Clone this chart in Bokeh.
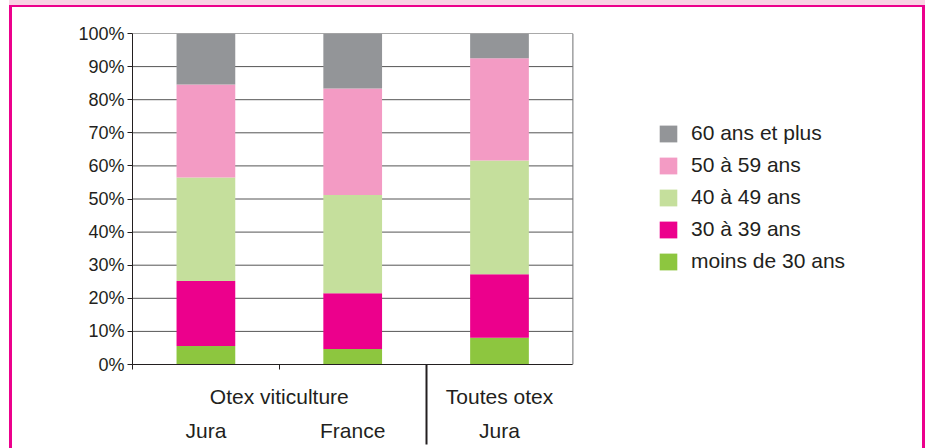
from bokeh.plotting import figure
from bokeh.models import (FixedTicker, LinearAxis, Legend, LegendItem, Span,
                          PrintfTickFormatter, Range1d, ColumnDataSource)
from bokeh.embed import file_html
from bokeh.resources import INLINE

# ---- data ----
sites = ["Jura", "France", "Jura"]
groups = ["Otex viticulture", "Toutes otex"]
group_sizes = [2, 1]
age_classes = ["moins de 30 ans", "30 à 39 ans", "40 à 49 ans",
               "50 à 59 ans", "60 ans et plus"]
moins_30 = [5.6, 4.7, 8.1]
ans_30_39 = [19.6, 16.8, 19.2]
ans_40_49 = [31.3, 29.7, 34.3]
ans_50_59 = [28.1, 32.2, 30.9]
ans_60_plus = [15.4, 16.6, 7.5]
y_ticks = [0, 10, 20, 30, 40, 50, 60, 70, 80, 90, 100]

colors = ["#8dc63f", "#ec008c", "#c5df9c", "#f39bc4", "#939598"]
TXT = "#231f20"
FONT = "Liberation Sans"
n = len(sites)

bar_x = [i + 0.5 for i in range(n)]
keys = ["s0", "s1", "s2", "s3", "s4"]
source = ColumnDataSource(dict(x=bar_x, s0=moins_30, s1=ans_30_39, s2=ans_40_49,
                               s3=ans_50_59, s4=ans_60_plus))

group_centers = []
group_edges = []
start = 0
for g in group_sizes:
    group_centers.append(start + g / 2)
    start += g
    group_edges.append(start)
inner_bounds = [i for i in range(n) if i not in group_edges]

p = figure(width=910, height=441, x_range=Range1d(0, n + 2),
           y_range=Range1d(0, 100), output_backend="svg", toolbar_location=None,
           x_axis_location=None, min_border_left=120, min_border_right=62,
           min_border_top=26, min_border_bottom=86)
p.styles = {"box-sizing": "content-box", "margin-left": "9px", "margin-top": "5px",
            "border-top": "2px solid #ec008c", "border-left": "3px solid #ec008c",
            "border-right": "3px solid #ec008c",
            "box-shadow": "0 -5px 0 0 #f8d3e4"}

p.outline_line_color = None
p.xgrid.visible = False
p.ygrid.visible = False

# horizontal grid lines over the bar area only (0 .. n)
p.segment(x0=[0] * len(y_ticks), x1=[n] * len(y_ticks), y0=y_ticks, y1=y_ticks,
          line_color="#555555", line_width=1)
p.add_layout(Span(location=n, dimension="height", line_color="#6d6e71", line_width=1))

rs = p.vbar_stack(keys, x="x", width=0.4, color=colors, line_color=None, source=source)

ya = p.yaxis[0]
ya.ticker = FixedTicker(ticks=y_ticks)
ya.formatter = PrintfTickFormatter(format="%d%%")
ya.major_tick_out = 5
ya.major_tick_in = 0
ya.minor_tick_line_color = None
ya.major_label_standoff = 3
ya.axis_line_color = TXT
ya.major_tick_line_color = TXT
ya.major_label_text_font = FONT
ya.major_label_text_font_size = "18px"
ya.major_label_text_color = TXT

ax1 = LinearAxis(ticker=FixedTicker(ticks=group_centers, minor_ticks=inner_bounds),
                 major_label_overrides={float(c): g for c, g in zip(group_centers, groups)},
                 bounds=(0, n),
                 major_tick_out=0, major_tick_in=0, minor_tick_out=5, minor_tick_in=0,
                 axis_line_color=TXT, minor_tick_line_color=TXT,
                 major_label_standoff=15, major_label_text_font=FONT,
                 major_label_text_font_size="21px", major_label_text_color=TXT)
ax2 = LinearAxis(ticker=FixedTicker(ticks=bar_x, minor_ticks=[]),
                 major_label_overrides={float(x): s for x, s in zip(bar_x, sites)},
                 major_tick_out=0, major_tick_in=0, minor_tick_out=0, minor_tick_in=0,
                 axis_line_color=None, major_tick_line_color=None, minor_tick_line_color=None,
                 major_label_standoff=8, major_label_text_font=FONT,
                 major_label_text_font_size="21px", major_label_text_color=TXT)
ax3 = LinearAxis(ticker=FixedTicker(ticks=[], minor_ticks=group_edges[:-1]),
                 major_tick_out=0, major_tick_in=0, minor_tick_out=0, minor_tick_in=80,
                 minor_tick_line_width=2, minor_tick_line_color=TXT,
                 axis_line_color=None, major_tick_line_color=None,
                 major_label_standoff=0, major_label_text_font_size="0px")
p.add_layout(ax1, "below")
p.add_layout(ax2, "below")
p.add_layout(ax3, "below")

items = [LegendItem(label=age_classes[i], renderers=[rs[i]]) for i in reversed(range(len(rs)))]
legend = Legend(items=items, location=(525, 91), glyph_width=22, glyph_height=21,
                label_standoff=12, spacing=8, padding=0, margin=0,
                border_line_color=None, background_fill_alpha=0,
                label_text_font=FONT, label_text_font_size="21px",
                label_text_color=TXT, label_height=21)
p.add_layout(legend)

open("out.html", "w").write(file_html(p, INLINE))
